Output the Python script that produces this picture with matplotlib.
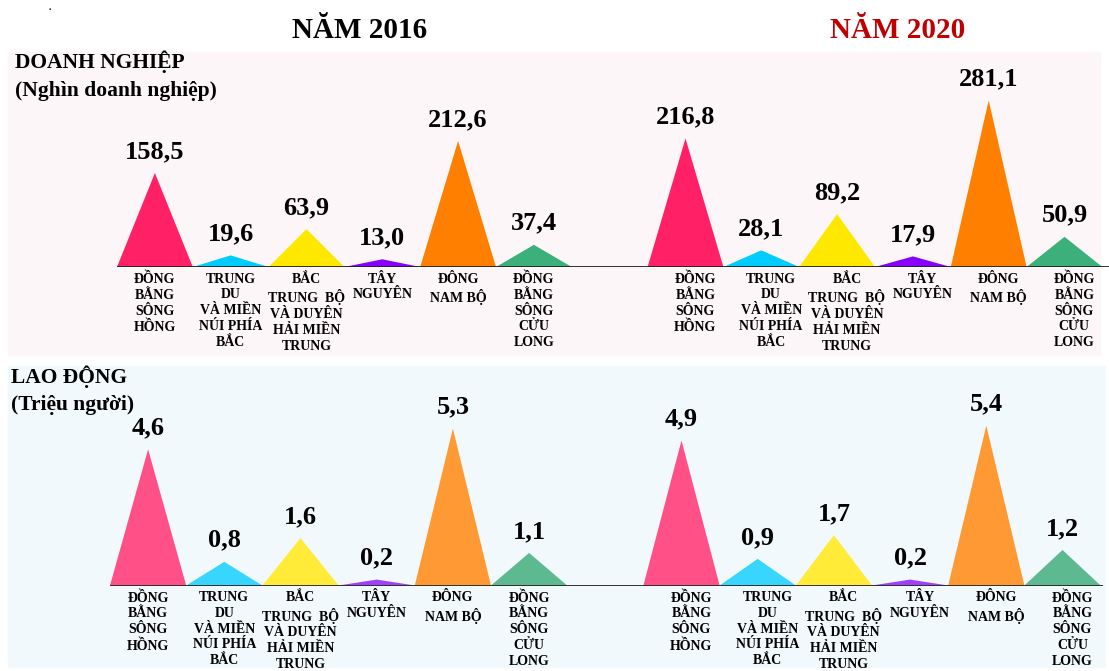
import matplotlib.pyplot as plt
from matplotlib.patches import Rectangle

plt.rcParams["font.family"] = ["Liberation Serif", "DejaVu Serif"]
plt.rcParams["font.weight"] = "bold"

regions = [
    "ĐỒNG\nBẰNG\nSÔNG\nHỒNG",
    "TRUNG\nDU\nVÀ MIỀN\nNÚI PHÍA\nBẮC",
    "BẮC\nTRUNG  BỘ\nVÀ DUYÊN\nHẢI MIỀN\nTRUNG",
    "TÂY\nNGUYÊN",
    "ĐÔNG\nNAM BỘ",
    "ĐỒNG\nBẰNG\nSÔNG\nCỬU\nLONG",
]
years = ["NĂM 2016", "NĂM 2020"]
doanh_nghiep_2016 = [158.5, 19.6, 63.9, 13.0, 212.6, 37.4]
doanh_nghiep_2020 = [216.8, 28.1, 89.2, 17.9, 281.1, 50.9]
lao_dong_2016 = [4.6, 0.8, 1.6, 0.2, 5.3, 1.1]
lao_dong_2020 = [4.9, 0.9, 1.7, 0.2, 5.4, 1.2]

colors_top = ["#FF2066", "#00CCFF", "#FFE800", "#8800FF", "#FF8000", "#3BB07A"]
colors_bottom = ["#FF5088", "#38D6FF", "#FFEB38", "#A040FF", "#FF9933", "#5DB98F"]

W, H = 1109, 671
fig = plt.figure(figsize=(W / 100, H / 100), dpi=100)


def fx(px):
    return px / W


def fy(py):
    return 1 - py / H


# row backgrounds, behind the axes
fig.patches.append(Rectangle((fx(8), fy(355)), fx(1100 - 8), (355 - 52) / H,
                             transform=fig.transFigure, color="#FCF6F8", zorder=-10))
fig.patches.append(Rectangle((fx(8), fy(667)), fx(1105 - 8), (667 - 366) / H,
                             transform=fig.transFigure, color="#F2F9FC", zorder=-10))


def fmt(v):
    return f"{v:.1f}".replace(".", ",")


def draw_row(ax, groups, colors):
    for g, vals in enumerate(groups):
        start = g * 7
        shift = 0.13 if g == 1 else 0.0
        for i, v in enumerate(vals):
            x0 = start + i
            ax.fill([x0, x0 + 0.5, x0 + 1], [0, v, 0], color=colors[i], lw=0, zorder=2)
            ax.annotate(fmt(v), (x0 + 0.5, v), xytext=(0, 15.5), textcoords="offset points",
                        ha="center", va="center", fontsize=19, fontweight="bold")
            ax.annotate(regions[i], (x0 + 0.5 + shift, 0), xytext=(0, -4),
                        textcoords="offset points", ha="center", va="top",
                        fontsize=10, fontweight="bold", linespacing=1.28)
    ax.axhline(0, color="#222222", lw=1.3, zorder=3)
    ax.set_axis_off()


ax_top = fig.add_axes([fx(117), fy(267), fx(W - 117), 215 / H])
ax_top.set_xlim(0, (W - 117) / 75.8)
ax_top.set_ylim(0, 215 / 0.593)
draw_row(ax_top, [doanh_nghiep_2016, doanh_nghiep_2020], colors_top)

ax_bot = fig.add_axes([fx(110), fy(585.5), fx(1103 - 110), 219.5 / H])
ax_bot.set_xlim(0, (1103 - 110) / 76.2)
ax_bot.set_ylim(0, 219.5 / 29.6)
draw_row(ax_bot, [lao_dong_2016, lao_dong_2020], colors_bottom)

fig.text(fx(360), fy(30), years[0], ha="center", va="center", fontsize=21,
         fontweight="bold", color="black")
fig.text(fx(898), fy(30), years[1], ha="center", va="center", fontsize=21,
         fontweight="bold", color="#C00000")

fig.text(fx(15), fy(62), "DOANH NGHIỆP", ha="left", va="center", fontsize=15.5, fontweight="bold")
fig.text(fx(15), fy(91), "(Nghìn doanh nghiệp)", ha="left", va="center", fontsize=15.5, fontweight="bold")
fig.text(fx(11), fy(377), "LAO ĐỘNG", ha="left", va="center", fontsize=15.5, fontweight="bold")
fig.text(fx(11), fy(405), "(Triệu người)", ha="left", va="center", fontsize=15.5, fontweight="bold")
fig.text(fx(50), fy(8), ".", ha="center", va="center", fontsize=7)

fig.savefig("out.png", dpi=100, facecolor="white")
